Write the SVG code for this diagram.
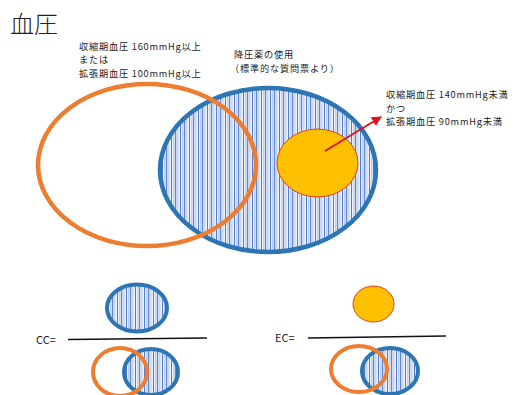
<svg xmlns="http://www.w3.org/2000/svg" width="521" height="395" viewBox="0 0 521 395">
<defs>
<pattern id="hatch" patternUnits="userSpaceOnUse" width="9" height="10">
<rect width="9" height="10" fill="#EEF3FB"/>
<rect x="0" width="1" height="10" fill="#4F7BD0"/>
<rect x="2.5" width="0.8" height="10" fill="#8FAEE3"/>
<rect x="4.2" width="1" height="10" fill="#3F6CC8"/>
<rect x="6.5" width="0.8" height="10" fill="#A7BFEA"/>
</pattern>
<marker id="arr" viewBox="0 0 10 10" refX="9" refY="5" markerWidth="5" markerHeight="5" orient="auto">
<path d="M0,0 L10,5 L0,10 z" fill="#E8111B"/>
</marker>
</defs>
<style>
.t{font-family:"Noto Sans CJK JP","Noto Sans",sans-serif;fill:#222;}
.s{font-size:9.2px;letter-spacing:0.8px;}
.blue{fill:url(#hatch);stroke:#2E75B6;}
.orange{fill:none;stroke:#ED7D31;}
.yellow{fill:#FFC000;stroke:#E0402A;stroke-width:1;}
.frac{stroke:#111;stroke-width:1.6;}
</style>
<rect width="521" height="395" fill="#fff"/>
<text class="t" x="10" y="33" font-size="24" font-weight="300">血圧</text>
<g id="label-high">
<text class="t s" x="79" y="49.5">収縮期血圧 160mmHg以上</text>
<text class="t s" x="79" y="63">または</text>
<text class="t s" x="79" y="76.5">拡張期血圧 100mmHg以上</text>
</g>
<g id="label-drug">
<text class="t s" x="234" y="58">降圧薬の使用</text>
<text class="t s" x="230" y="72">（標準的な質問票より）</text>
</g>
<g id="label-ctrl">
<text class="t s" x="386" y="98">収縮期血圧 140mmHg未満</text>
<text class="t s" x="386" y="111.5">かつ</text>
<text class="t s" x="386" y="125">拡張期血圧 90mmHg未満</text>
</g>
<g id="venn-drug"><ellipse class="blue" cx="268" cy="170" rx="108" ry="82" stroke-width="4.5"/></g>
<g id="venn-high"><ellipse class="orange" cx="147" cy="165" rx="109" ry="81" stroke-width="4.5"/></g>
<g id="venn-ctrl"><ellipse class="yellow" cx="317.5" cy="163" rx="40.5" ry="34"/></g>
<g id="connectors">
<line x1="325" y1="151" x2="381" y2="117" stroke="#E8111B" stroke-width="2" marker-end="url(#arr)"/>
</g>
<g id="cc">
<text class="t" x="36" y="344" font-size="11" fill="#444">CC=</text>
<line class="frac" x1="68" y1="339.5" x2="207" y2="338"/>
<ellipse class="blue" cx="137" cy="308" rx="30" ry="23.5" stroke-width="4"/>
<ellipse class="blue" cx="151" cy="372" rx="27" ry="23" stroke-width="4"/>
<ellipse class="orange" cx="120" cy="372" rx="27" ry="24" stroke-width="4"/>
</g>
<g id="ec">
<text class="t" x="275" y="342" font-size="11" fill="#444">EC=</text>
<line class="frac" x1="308" y1="338" x2="446" y2="336"/>
<ellipse class="yellow" cx="373.5" cy="304" rx="20.5" ry="18"/>
<ellipse class="blue" cx="390" cy="371" rx="28" ry="23" stroke-width="4"/>
<ellipse class="orange" cx="359" cy="369" rx="28" ry="23" stroke-width="4"/>
</g>
</svg>
